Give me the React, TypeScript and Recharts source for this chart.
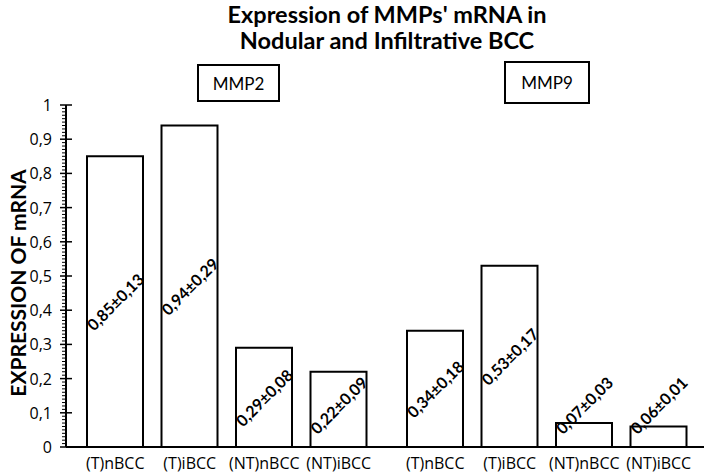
import { BarChart, Bar, XAxis, YAxis, LabelList } from 'recharts';

const groups = ['(T)nBCC', '(T)iBCC', '(NT)nBCC', '(NT)iBCC'];
const mmp2Values = [0.85, 0.94, 0.29, 0.22];
const mmp2Errors = [0.13, 0.29, 0.08, 0.09];
const mmp9Values = [0.34, 0.53, 0.07, 0.06];
const mmp9Errors = [0.18, 0.17, 0.03, 0.01];
const yMajorTicks = [0, 0.1, 0.2, 0.3, 0.4, 0.5, 0.6, 0.7, 0.8, 0.9, 1];

// minor tick marks every 0.01 (axis decoration only)
const yAllTicks = Array.from({ length: 101 }, (_, i) => i / 100);

const fmt = (v: number) => (v === 0 || v === 1 ? String(v) : v.toFixed(2).replace(/0$/, '').replace('.', ','));
const fmtPair = (v: number, e: number) => `${v.toFixed(2).replace('.', ',')}±${e.toFixed(2).replace('.', ',')}`;

const mmp2Data = groups.map((name, i) => ({ name, value: mmp2Values[i], label: fmtPair(mmp2Values[i], mmp2Errors[i]) }));
const mmp9Data = groups.map((name, i) => ({ name, value: mmp9Values[i], label: fmtPair(mmp9Values[i], mmp9Errors[i]) }));

const SANS = '"Open Sans", sans-serif';
const BOLD = 'Lato, sans-serif';

function YTick(props: any) {
  const { x, y, payload } = props;
  const v: number = payload.value;
  const isMajor = Math.round(v * 100) % 10 === 0;
  if (!isMajor) {
    return <line x1={x - 4} x2={x} y1={y} y2={y} stroke="#000" strokeWidth={1} />;
  }
  return (
    <g>
      <line x1={x - 6} x2={x + 6} y1={y} y2={y} stroke="#000" strokeWidth={1.5} />
      <text x={x - 14} y={y} textAnchor="end" dominantBaseline="central" fontFamily={SANS} fontSize={16} fill="#000">
        {fmt(Math.round(v * 10) / 10)}
      </text>
    </g>
  );
}

function XTick(props: any) {
  const { x, y, payload } = props;
  return (
    <text x={x} y={y + 14} textAnchor="middle" dominantBaseline="central" fontFamily={SANS} fontSize={16} fill="#000">
      {payload.value}
    </text>
  );
}

function BarLabel(props: any) {
  const { x, y, width, height, value } = props;
  const cx = x + width / 2;
  const bottom = y + height;
  const cy = Math.min(y + height / 2, bottom - 42);
  return (
    <text
      x={cx}
      y={cy}
      textAnchor="middle"
      dominantBaseline="central"
      transform={`rotate(-45 ${cx} ${cy})`}
      fontFamily={BOLD}
      fontWeight={700}
      fontSize={16}
      fill="#000"
    >
      {value}
    </text>
  );
}

const boxStyle = {
  position: 'absolute' as const,
  border: '2px solid #000',
  boxSizing: 'border-box' as const,
  display: 'flex',
  alignItems: 'center',
  justifyContent: 'center',
  fontFamily: BOLD,
  fontSize: 17,
  background: '#fff',
};

export default function App() {
  return (
    <div style={{ position: 'absolute', left: 0, top: 0, width: 708, height: 474, background: '#fff', overflow: 'hidden' }}>
      <div
        style={{
          position: 'absolute',
          left: 187,
          top: 1,
          width: 400,
          textAlign: 'center',
          fontFamily: BOLD,
          fontWeight: 700,
          fontSize: 23.5,
          lineHeight: '26px',
        }}
      >
        Expression of MMPs' mRNA in
        <br />
        Nodular and Infiltrative BCC
      </div>
      <div style={{ ...boxStyle, left: 197, top: 64, width: 83, height: 38 }}>MMP2</div>
      <div style={{ ...boxStyle, left: 504, top: 61, width: 86, height: 43 }}>MMP9</div>
      <div
        style={{
          position: 'absolute',
          left: 18 - 150,
          top: 283 - 12,
          width: 300,
          height: 24,
          lineHeight: '24px',
          textAlign: 'center',
          transform: 'rotate(-90deg)',
          fontFamily: BOLD,
          fontWeight: 700,
          fontSize: 21,
        }}
      >
        EXPRESSION OF mRNA
      </div>
      <div style={{ position: 'absolute', left: 0, top: 0 }}>
        <BarChart width={390} height={474} data={mmp2Data} margin={{ top: 105, right: 3, bottom: 0, left: 0 }}>
          <XAxis
            dataKey="name"
            height={27}
            padding={{ left: 12, right: 11 }}
            axisLine={{ stroke: '#000', strokeWidth: 2 }}
            tickLine={false}
            tickSize={0}
            tick={<XTick />}
            interval={0}
          />
          <YAxis
            width={66}
            domain={[0, 1]}
            ticks={yAllTicks}
            interval={0}
            axisLine={{ stroke: '#000', strokeWidth: 2 }}
            tickLine={false}
            tickSize={0}
            tickMargin={0}
            tick={<YTick />}
          />
          <Bar dataKey="value" barSize={56} fill="#fff" stroke="#000" strokeWidth={2} isAnimationActive={false}>
            <LabelList dataKey="label" content={<BarLabel />} />
          </Bar>
        </BarChart>
      </div>
      <div style={{ position: 'absolute', left: 380, top: 0 }}>
        <BarChart width={328} height={474} data={mmp9Data} margin={{ top: 105, right: 4, bottom: 0, left: 7 }}>
          <XAxis
            dataKey="name"
            height={27}
            padding={{ left: 11, right: 8 }}
            axisLine={{ stroke: '#000', strokeWidth: 2 }}
            tickLine={false}
            tickSize={0}
            tick={<XTick />}
            interval={0}
          />
          <YAxis yAxisId="l" width={0} domain={[0, 1]} ticks={yMajorTicks} tick={false} tickLine={false} axisLine={{ stroke: '#000', strokeWidth: 2 }} />
          <YAxis yAxisId="r" orientation="right" width={0} domain={[0, 1]} ticks={yMajorTicks} tick={false} tickLine={false} axisLine={{ stroke: '#000', strokeWidth: 2 }} />
          <Bar yAxisId="l" dataKey="value" barSize={56} fill="#fff" stroke="#000" strokeWidth={2} isAnimationActive={false}>
            <LabelList dataKey="label" content={<BarLabel />} />
          </Bar>
        </BarChart>
      </div>
    </div>
  );
}
